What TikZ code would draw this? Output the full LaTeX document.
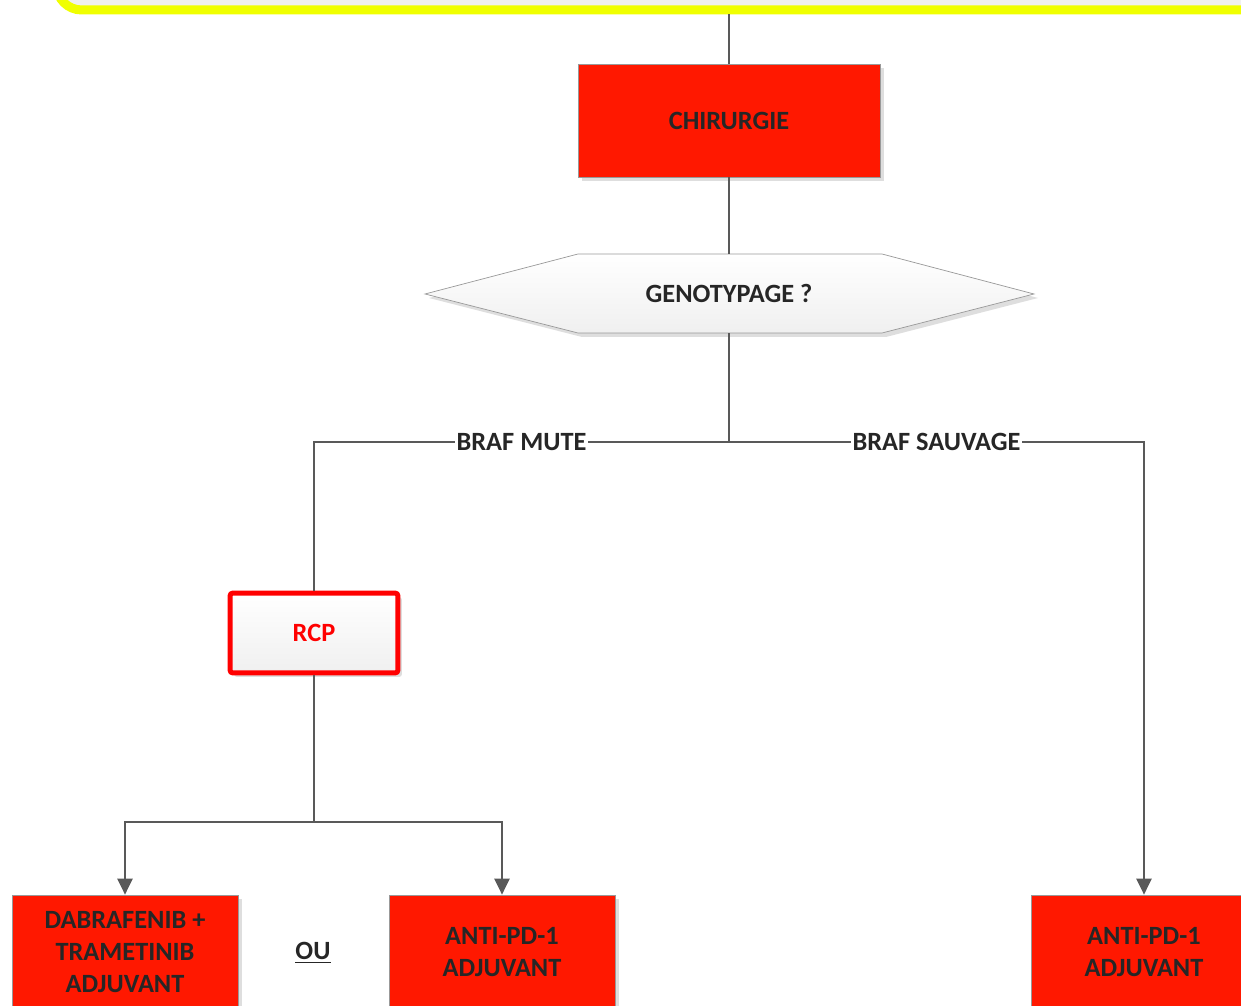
\documentclass[tikz,border=0pt]{standalone}
\usepackage{fontspec}
\setmainfont{Carlito}
\usetikzlibrary{positioning}
\usetikzlibrary{shadows}
\usetikzlibrary{arrows.meta}
\definecolor{boxred}{RGB}{255,24,0}
\definecolor{txtgray}{RGB}{38,38,38}
\definecolor{linegray}{RGB}{89,89,89}
\definecolor{hiyellow}{RGB}{240,255,0}
\tikzset{
    boxshadow/.style = {drop shadow = {shadow xshift = 0.08cm, shadow yshift = -0.08cm, fill = black!13, opacity = 1}},
    redbox/.style = {draw = gray!80, fill = boxred, text = txtgray, font = \bfseries\fontsize{15}{18}\selectfont, align = center, minimum width = 4.52cm, minimum height = 2.28cm, boxshadow},
    rcpbox/.style = {draw = red, line width = 0.1cm, rounded corners = 0.06cm, top color = white, bottom color = gray!12, text = red, font = \bfseries\fontsize{15}{18}\selectfont, minimum width = 3.36cm, minimum height = 1.6cm, boxshadow},
    link/.style = {linegray, line width = 0.045cm},
    arrow/.style = {link, -{Triangle[length = 0.32cm, width = 0.3cm]}},
    branch/.style = {fill = white, text = txtgray, font = \bfseries\fontsize{15}{18}\selectfont, inner sep = 1pt}
}

\begin{document}
\begin{tikzpicture}[x = 0.02cm, y = -0.02cm]
    \useasboundingbox (0, 0) rectangle (1241, 1006);
    \clip (0, 0) rectangle (1241, 1006);
    \node[draw = hiyellow, line width = 0.18cm, rounded corners = 0.5cm, top color = white, bottom color = gray!12, minimum width = 26.9cm, minimum height = 4.2cm, boxshadow] (cadre) at (729, -95) {};
    \node[redbox, minimum width = 6.04cm, minimum height = 2.26cm] (chir) at (729, 120.5) {CHIRURGIE};
    \fill[black!13] (429, 298)--(582, 258)--(886, 258)--(1038, 298)--(886, 337)--(582, 337)--cycle;
    \draw[gray!80, top color = white, bottom color = gray!12] (425, 294)--(578, 254)--(882, 254)--(1034, 294)--(882, 333)--(578, 333)--cycle;
    \node[minimum width = 6.08cm, minimum height = 1.58cm, inner sep = 0pt, text = txtgray, font = \bfseries\fontsize{15}{18}\selectfont] (geno) at (729, 293.5) {GENOTYPAGE ?};
    \node[rcpbox] (rcp) at (314, 633) {RCP};
    \node[redbox] (dab) at (125, 952) {DABRAFENIB +\\TRAMETINIB\\ADJUVANT};
    \node[redbox] (antil) at (502, 952) {ANTI-PD-1\\ADJUVANT};
    \node[redbox] (antir) at (1144, 952) {ANTI-PD-1\\ADJUVANT};
    \node[text = txtgray, font = \bfseries\fontsize{15}{18}\selectfont] (ou) at (313, 953) {\underline{OU}};
    \coordinate (fork) at (729, 442);
    \coordinate (split) at (314, 822);
    \draw[link] (cadre.south)--(chir.north);
    \draw[link] (chir.south)--(geno.north);
    \draw[link] (geno.south)--(fork);
    \draw[link] (fork) -| node[branch, pos = 0.25] {BRAF MUTE} (rcp.north);
    \draw[arrow] (fork) -| node[branch, pos = 0.25] {BRAF SAUVAGE} (antir.north);
    \draw[link] (rcp.south)--(split);
    \draw[arrow] (split) -| (dab.north);
    \draw[arrow] (split) -| (antil.north);
\end{tikzpicture}
\end{document}
